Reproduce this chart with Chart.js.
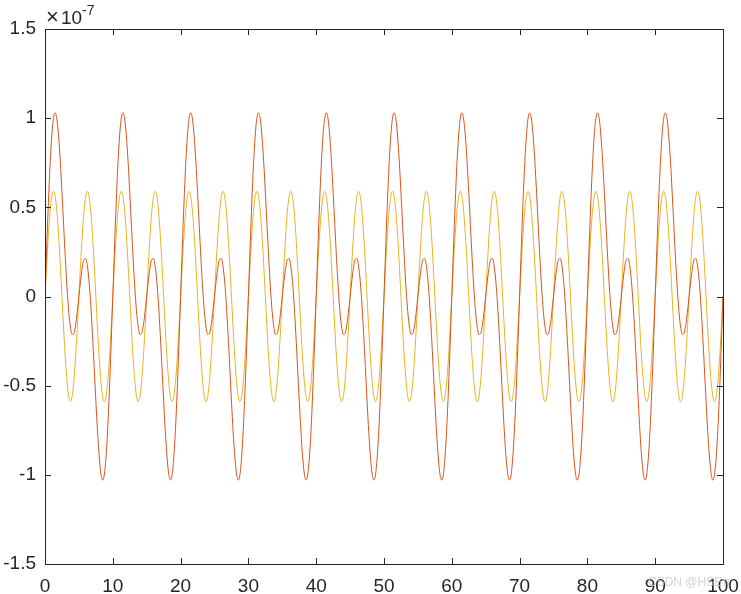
<!DOCTYPE html>
<html>
<head>
<meta charset="utf-8">
<script src="https://cdn.jsdelivr.net/npm/chart.js@4"></script>
<style>
  html, body { margin: 0; padding: 0; background: #fff; }
  #wrap { width: 741px; height: 594px; position: relative; }
</style>
</head>
<body>
<div id="wrap"><canvas id="myChart" width="741" height="594"></canvas></div>
<script>
// samples every 0.25 on x, values in units of 1e-7
var xStart = 0;
var xStep = 0.25;

var redValues = [
  0, 0.272, 0.525, 0.739, 0.900, 0.999, 1.030, 0.995, 0.900, 0.759, 0.585, 0.397, 0.213, 0.048, -0.083, -0.171, -0.213, -0.208, -0.163, -0.089, 0, 0.089, 0.163, 0.208, 0.213, 0.171, 0.083, -0.048, -0.213, -0.397, -0.585, -0.759, -0.900, -0.995, -1.030, -0.999, -0.900, -0.739, -0.525, -0.272,
  0, 0.272, 0.525, 0.739, 0.900, 0.999, 1.030, 0.995, 0.900, 0.759, 0.585, 0.397, 0.213, 0.048, -0.083, -0.171, -0.213, -0.208, -0.163, -0.089, 0, 0.089, 0.163, 0.208, 0.213, 0.171, 0.083, -0.048, -0.213, -0.397, -0.585, -0.759, -0.900, -0.995, -1.030, -0.999, -0.900, -0.739, -0.525, -0.272,
  0, 0.272, 0.525, 0.739, 0.900, 0.999, 1.030, 0.995, 0.900, 0.759, 0.585, 0.397, 0.213, 0.048, -0.083, -0.171, -0.213, -0.208, -0.163, -0.089, 0, 0.089, 0.163, 0.208, 0.213, 0.171, 0.083, -0.048, -0.213, -0.397, -0.585, -0.759, -0.900, -0.995, -1.030, -0.999, -0.900, -0.739, -0.525, -0.272,
  0, 0.272, 0.525, 0.739, 0.900, 0.999, 1.030, 0.995, 0.900, 0.759, 0.585, 0.397, 0.213, 0.048, -0.083, -0.171, -0.213, -0.208, -0.163, -0.089, 0, 0.089, 0.163, 0.208, 0.213, 0.171, 0.083, -0.048, -0.213, -0.397, -0.585, -0.759, -0.900, -0.995, -1.030, -0.999, -0.900, -0.739, -0.525, -0.272,
  0, 0.272, 0.525, 0.739, 0.900, 0.999, 1.030, 0.995, 0.900, 0.759, 0.585, 0.397, 0.213, 0.048, -0.083, -0.171, -0.213, -0.208, -0.163, -0.089, 0, 0.089, 0.163, 0.208, 0.213, 0.171, 0.083, -0.048, -0.213, -0.397, -0.585, -0.759, -0.900, -0.995, -1.030, -0.999, -0.900, -0.739, -0.525, -0.272,
  0, 0.272, 0.525, 0.739, 0.900, 0.999, 1.030, 0.995, 0.900, 0.759, 0.585, 0.397, 0.213, 0.048, -0.083, -0.171, -0.213, -0.208, -0.163, -0.089, 0, 0.089, 0.163, 0.208, 0.213, 0.171, 0.083, -0.048, -0.213, -0.397, -0.585, -0.759, -0.900, -0.995, -1.030, -0.999, -0.900, -0.739, -0.525, -0.272,
  0, 0.272, 0.525, 0.739, 0.900, 0.999, 1.030, 0.995, 0.900, 0.759, 0.585, 0.397, 0.213, 0.048, -0.083, -0.171, -0.213, -0.208, -0.163, -0.089, 0, 0.089, 0.163, 0.208, 0.213, 0.171, 0.083, -0.048, -0.213, -0.397, -0.585, -0.759, -0.900, -0.995, -1.030, -0.999, -0.900, -0.739, -0.525, -0.272,
  0, 0.272, 0.525, 0.739, 0.900, 0.999, 1.030, 0.995, 0.900, 0.759, 0.585, 0.397, 0.213, 0.048, -0.083, -0.171, -0.213, -0.208, -0.163, -0.089, 0, 0.089, 0.163, 0.208, 0.213, 0.171, 0.083, -0.048, -0.213, -0.397, -0.585, -0.759, -0.900, -0.995, -1.030, -0.999, -0.900, -0.739, -0.525, -0.272,
  0, 0.272, 0.525, 0.739, 0.900, 0.999, 1.030, 0.995, 0.900, 0.759, 0.585, 0.397, 0.213, 0.048, -0.083, -0.171, -0.213, -0.208, -0.163, -0.089, 0, 0.089, 0.163, 0.208, 0.213, 0.171, 0.083, -0.048, -0.213, -0.397, -0.585, -0.759, -0.900, -0.995, -1.030, -0.999, -0.900, -0.739, -0.525, -0.272,
  0, 0.272, 0.525, 0.739, 0.900, 0.999, 1.030, 0.995, 0.900, 0.759, 0.585, 0.397, 0.213, 0.048, -0.083, -0.171, -0.213, -0.208, -0.163, -0.089, 0, 0.089, 0.163, 0.208, 0.213, 0.171, 0.083, -0.048, -0.213, -0.397, -0.585, -0.759, -0.900, -0.995, -1.030, -0.999, -0.900, -0.739, -0.525, -0.272,
  0
];

var yellowValues = [
  0, 0.182, 0.347, 0.477, 0.561, 0.590, 0.561, 0.477, 0.347, 0.182, 0, -0.182, -0.347, -0.477, -0.561, -0.590, -0.561, -0.477, -0.347, -0.182, 0, 0.182, 0.347, 0.477, 0.561, 0.590, 0.561, 0.477, 0.347, 0.182, 0, -0.182, -0.347, -0.477, -0.561, -0.590, -0.561, -0.477, -0.347, -0.182,
  0, 0.182, 0.347, 0.477, 0.561, 0.590, 0.561, 0.477, 0.347, 0.182, 0, -0.182, -0.347, -0.477, -0.561, -0.590, -0.561, -0.477, -0.347, -0.182, 0, 0.182, 0.347, 0.477, 0.561, 0.590, 0.561, 0.477, 0.347, 0.182, 0, -0.182, -0.347, -0.477, -0.561, -0.590, -0.561, -0.477, -0.347, -0.182,
  0, 0.182, 0.347, 0.477, 0.561, 0.590, 0.561, 0.477, 0.347, 0.182, 0, -0.182, -0.347, -0.477, -0.561, -0.590, -0.561, -0.477, -0.347, -0.182, 0, 0.182, 0.347, 0.477, 0.561, 0.590, 0.561, 0.477, 0.347, 0.182, 0, -0.182, -0.347, -0.477, -0.561, -0.590, -0.561, -0.477, -0.347, -0.182,
  0, 0.182, 0.347, 0.477, 0.561, 0.590, 0.561, 0.477, 0.347, 0.182, 0, -0.182, -0.347, -0.477, -0.561, -0.590, -0.561, -0.477, -0.347, -0.182, 0, 0.182, 0.347, 0.477, 0.561, 0.590, 0.561, 0.477, 0.347, 0.182, 0, -0.182, -0.347, -0.477, -0.561, -0.590, -0.561, -0.477, -0.347, -0.182,
  0, 0.182, 0.347, 0.477, 0.561, 0.590, 0.561, 0.477, 0.347, 0.182, 0, -0.182, -0.347, -0.477, -0.561, -0.590, -0.561, -0.477, -0.347, -0.182, 0, 0.182, 0.347, 0.477, 0.561, 0.590, 0.561, 0.477, 0.347, 0.182, 0, -0.182, -0.347, -0.477, -0.561, -0.590, -0.561, -0.477, -0.347, -0.182,
  0, 0.182, 0.347, 0.477, 0.561, 0.590, 0.561, 0.477, 0.347, 0.182, 0, -0.182, -0.347, -0.477, -0.561, -0.590, -0.561, -0.477, -0.347, -0.182, 0, 0.182, 0.347, 0.477, 0.561, 0.590, 0.561, 0.477, 0.347, 0.182, 0, -0.182, -0.347, -0.477, -0.561, -0.590, -0.561, -0.477, -0.347, -0.182,
  0, 0.182, 0.347, 0.477, 0.561, 0.590, 0.561, 0.477, 0.347, 0.182, 0, -0.182, -0.347, -0.477, -0.561, -0.590, -0.561, -0.477, -0.347, -0.182, 0, 0.182, 0.347, 0.477, 0.561, 0.590, 0.561, 0.477, 0.347, 0.182, 0, -0.182, -0.347, -0.477, -0.561, -0.590, -0.561, -0.477, -0.347, -0.182,
  0, 0.182, 0.347, 0.477, 0.561, 0.590, 0.561, 0.477, 0.347, 0.182, 0, -0.182, -0.347, -0.477, -0.561, -0.590, -0.561, -0.477, -0.347, -0.182, 0, 0.182, 0.347, 0.477, 0.561, 0.590, 0.561, 0.477, 0.347, 0.182, 0, -0.182, -0.347, -0.477, -0.561, -0.590, -0.561, -0.477, -0.347, -0.182,
  0, 0.182, 0.347, 0.477, 0.561, 0.590, 0.561, 0.477, 0.347, 0.182, 0, -0.182, -0.347, -0.477, -0.561, -0.590, -0.561, -0.477, -0.347, -0.182, 0, 0.182, 0.347, 0.477, 0.561, 0.590, 0.561, 0.477, 0.347, 0.182, 0, -0.182, -0.347, -0.477, -0.561, -0.590, -0.561, -0.477, -0.347, -0.182,
  0, 0.182, 0.347, 0.477, 0.561, 0.590, 0.561, 0.477, 0.347, 0.182, 0, -0.182, -0.347, -0.477, -0.561, -0.590, -0.561, -0.477, -0.347, -0.182, 0, 0.182, 0.347, 0.477, 0.561, 0.590, 0.561, 0.477, 0.347, 0.182, 0, -0.182, -0.347, -0.477, -0.561, -0.590, -0.561, -0.477, -0.347, -0.182,
  0
];

var xTicks = [0, 10, 20, 30, 40, 50, 60, 70, 80, 90, 100];
var yTicks = [-1.5, -1, -0.5, 0, 0.5, 1, 1.5];
var yExponent = '-7';

function toPoints(values) {
    var pts = [];
    for (var i = 0; i < values.length; i++) {
        pts.push({ x: xStart + i * xStep, y: values[i] });
    }
    return pts;
}

var fontFamily = '"Liberation Sans", Arial, Helvetica, sans-serif';
var axisColor = '#262626';

// matlab style box, inward ticks, exponent label and watermark
var matlabAxes = {
    id: 'matlabAxes',
    afterDraw: function(chart) {
        var ctx = chart.ctx;
        var a = chart.chartArea;
        var xs = chart.scales.x;
        var ys = chart.scales.y;
        var len = 6;
        ctx.save();
        ctx.strokeStyle = axisColor;
        ctx.lineWidth = 1;
        ctx.beginPath();
        for (var i = 0; i < xTicks.length; i++) {
            var px = Math.round(xs.getPixelForValue(xTicks[i])) + 0.5;
            ctx.moveTo(px, a.bottom);
            ctx.lineTo(px, a.bottom - len);
            ctx.moveTo(px, a.top);
            ctx.lineTo(px, a.top + len);
        }
        for (var j = 0; j < yTicks.length; j++) {
            var py = Math.round(ys.getPixelForValue(yTicks[j])) + 0.5;
            ctx.moveTo(a.left, py);
            ctx.lineTo(a.left + len, py);
            ctx.moveTo(a.right, py);
            ctx.lineTo(a.right - len, py);
        }
        ctx.stroke();
        ctx.strokeRect(Math.round(a.left) + 0.5, Math.round(a.top) + 0.5,
            Math.round(a.right - a.left), Math.round(a.bottom - a.top));

        // x10^-7
        ctx.fillStyle = axisColor;
        ctx.textBaseline = 'alphabetic';
        ctx.textAlign = 'left';
        ctx.font = '22px ' + fontFamily;
        ctx.fillText('\u00d7', a.left + 1, 24);
        ctx.font = '19px ' + fontFamily;
        ctx.fillText('10', a.left + 16, 24);
        ctx.font = '14px ' + fontFamily;
        ctx.fillText(yExponent, a.left + 37, 15);

        // faint watermark
        ctx.fillStyle = 'rgba(200,200,200,0.8)';
        ctx.font = '12px ' + fontFamily;
        ctx.fillText('CSDN @HSE\u03c0', 648, 586);
        ctx.restore();
    }
};

var ctx = document.getElementById('myChart');
var myChart = new Chart(ctx, {
    type: 'line',
    data: {
        datasets: [{
            label: 'red',
            data: toPoints(redValues),
            borderColor: '#D95319',
            borderWidth: 1,
            pointRadius: 0,
            cubicInterpolationMode: 'monotone'
        }, {
            label: 'yellow',
            data: toPoints(yellowValues),
            borderColor: '#EDB120',
            borderWidth: 1,
            pointRadius: 0,
            cubicInterpolationMode: 'monotone'
        }]
    },
    options: {
        responsive: false,
        animation: false,
        maintainAspectRatio: false,
        layout: { padding: { top: 29, right: 18, left: 0, bottom: 0 } },
        plugins: {
            legend: { display: false },
            tooltip: { enabled: false }
        },
        scales: {
            x: {
                type: 'linear',
                min: 0,
                max: 100,
                afterBuildTicks: function(scale) {
                    scale.ticks = xTicks.map(function(v) { return { value: v }; });
                },
                afterFit: function(scale) {
                    scale.height = 30;
                    scale.paddingLeft = 0;
                    scale.paddingRight = 0;
                },
                grid: { display: false, drawTicks: false },
                border: { display: false },
                ticks: {
                    color: axisColor,
                    padding: 11,
                    maxRotation: 0,
                    font: { family: fontFamily, size: 19 },
                    callback: function(v) { return String(v); }
                }
            },
            y: {
                type: 'linear',
                min: -1.5,
                max: 1.5,
                afterBuildTicks: function(scale) {
                    scale.ticks = yTicks.map(function(v) { return { value: v }; });
                },
                afterFit: function(scale) {
                    scale.width = 45;
                    scale.paddingTop = 0;
                    scale.paddingBottom = 0;
                },
                grid: { display: false, drawTicks: false },
                border: { display: false },
                ticks: {
                    color: axisColor,
                    padding: 9,
                    font: { family: fontFamily, size: 19 },
                    callback: function(v) { return String(v); }
                }
            }
        }
    },
    plugins: [matlabAxes]
});
</script>
</body>
</html>
